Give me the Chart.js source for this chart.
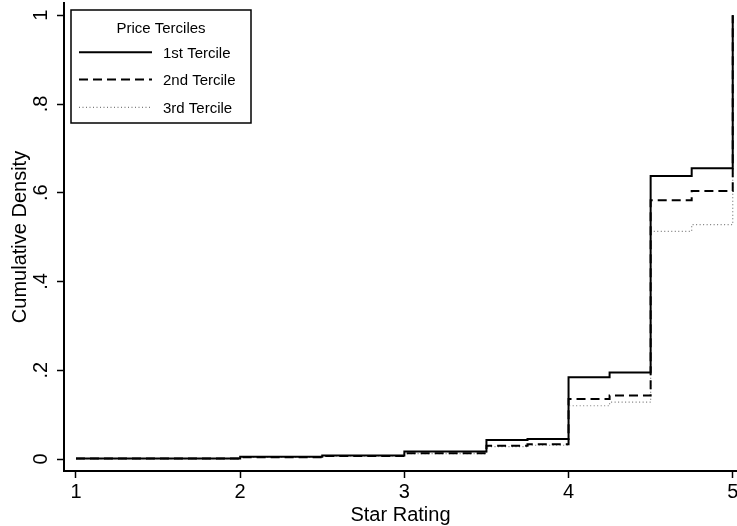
<!DOCTYPE html>
<html>
<head>
<meta charset="utf-8">
<title>Cumulative Density by Price Tercile</title>
<script src="https://cdn.jsdelivr.net/npm/chart.js@4.4.1/dist/chart.umd.min.js"></script>
<style>
  html, body { margin: 0; padding: 0; background: #ffffff; }
  #wrap { width: 737px; height: 526px; }
</style>
</head>
<body>
<div id="wrap"><canvas id="cdf" width="737" height="526"></canvas></div>
<script>
// Star ratings where the empirical CDF jumps
const starRatings = [1, 2, 2.5, 3, 3.5, 3.75, 4, 4.25, 4.5, 4.75, 5];

// Cumulative share of listings at or below each rating, by price tercile
const tercile1 = [0.001, 0.005, 0.008, 0.017, 0.043, 0.045, 0.184, 0.195, 0.638, 0.655, 1];
const tercile2 = [0.001, 0.004, 0.007, 0.013, 0.030, 0.033, 0.135, 0.143, 0.583, 0.604, 1];
const tercile3 = [0.001, 0.004, 0.007, 0.012, 0.028, 0.031, 0.120, 0.128, 0.513, 0.528, 1];

const seriesNames = ['1st Tercile', '2nd Tercile', '3rd Tercile'];
const legendTitle = 'Price Terciles';

// Axis ticks and their printed labels
const xTicks = [1, 2, 3, 4, 5];
const xTickLabels = ['1', '2', '3', '4', '5'];
const yTicks = [0, 0.2, 0.4, 0.6, 0.8, 1];
const yTickLabels = ['0', '.2', '.4', '.6', '.8', '1'];

const xTitle = 'Star Rating';
const yTitle = 'Cumulative Density';

const FONT = '"Liberation Sans", Arial, Helvetica, sans-serif';

function toPoints(values) {
  return starRatings.map((r, i) => ({ x: r, y: values[i] }));
}

// Tick labels, axis titles and the boxed legend, drawn in the Stata manner
const annotate = {
  id: 'annotate',
  afterDraw(chart) {
    const ctx = chart.ctx;
    const xs = chart.scales.x;
    const ys = chart.scales.y;
    ctx.save();
    ctx.fillStyle = '#000';

    // x tick labels
    ctx.font = '20px ' + FONT;
    ctx.textAlign = 'center';
    ctx.textBaseline = 'alphabetic';
    xTicks.forEach((v, i) => {
      ctx.fillText(xTickLabels[i], xs.getPixelForValue(v), 498);
    });

    // y tick labels, rotated to read upward
    yTicks.forEach((v, i) => {
      ctx.save();
      ctx.translate(47, ys.getPixelForValue(v));
      ctx.rotate(-Math.PI / 2);
      ctx.fillText(yTickLabels[i], 0, 0);
      ctx.restore();
    });

    // axis titles
    const area = chart.chartArea;
    ctx.fillText(xTitle, (area.left + area.right) / 2, 521);
    ctx.save();
    ctx.translate(26, (area.top + area.bottom) / 2);
    ctx.rotate(-Math.PI / 2);
    ctx.fillText(yTitle, 0, 0);
    ctx.restore();

    // legend box
    const box = { x: 71, y: 10, w: 180, h: 113 };
    ctx.strokeStyle = '#000';
    ctx.lineWidth = 1.5;
    ctx.strokeRect(box.x, box.y, box.w, box.h);
    ctx.font = '15px ' + FONT;
    ctx.textAlign = 'center';
    ctx.fillText(legendTitle, box.x + box.w / 2, 32.5);

    const rowY = [52.3, 79.5, 107.3];
    chart.data.datasets.forEach((ds, i) => {
      ctx.save();
      ctx.strokeStyle = ds.borderColor;
      ctx.lineWidth = ds.borderWidth;
      ctx.setLineDash(ds.borderDash || []);
      ctx.beginPath();
      ctx.moveTo(79, rowY[i]);
      ctx.lineTo(152, rowY[i]);
      ctx.stroke();
      ctx.restore();
      ctx.textAlign = 'left';
      ctx.fillText(ds.label, 163, rowY[i] + 5.2);
    });
    ctx.restore();
  }
};

const axisCommon = {
  type: 'linear',
  grid: {
    display: true,
    drawOnChartArea: false,
    drawTicks: true,
    tickLength: 7,
    tickColor: '#000',
    tickWidth: 1.5
  },
  border: { display: true, color: '#000', width: 2 },
  ticks: { display: false }
};

new Chart(document.getElementById('cdf'), {
  type: 'line',
  data: {
    datasets: [
      {
        label: seriesNames[0],
        data: toPoints(tercile1),
        borderColor: '#000000',
        borderWidth: 2,
        borderDash: [],
        stepped: true
      },
      {
        label: seriesNames[1],
        data: toPoints(tercile2),
        borderColor: '#000000',
        borderWidth: 2,
        borderDash: [9, 5],
        stepped: true
      },
      {
        label: seriesNames[2],
        data: toPoints(tercile3),
        borderColor: '#7a7a7a',
        borderWidth: 1.2,
        borderDash: [1, 2.5],
        stepped: true
      }
    ]
  },
  options: {
    responsive: false,
    animation: false,
    devicePixelRatio: 1,
    layout: { padding: { top: 3, right: 0, bottom: 0, left: 0 } },
    elements: { point: { radius: 0 }, line: { tension: 0, fill: false } },
    plugins: { legend: { display: false }, tooltip: { enabled: false } },
    scales: {
      x: Object.assign({}, axisCommon, {
        min: 0.927,
        max: 5.026,
        afterBuildTicks(s) { s.ticks = xTicks.map(v => ({ value: v })); },
        afterFit(s) { s.height = 55; }
      }),
      y: Object.assign({}, axisCommon, {
        min: -0.027,
        max: 1.0276,
        afterBuildTicks(s) { s.ticks = yTicks.map(v => ({ value: v })); },
        afterFit(s) { s.width = 64; }
      })
    }
  },
  plugins: [annotate]
});
</script>
</body>
</html>
